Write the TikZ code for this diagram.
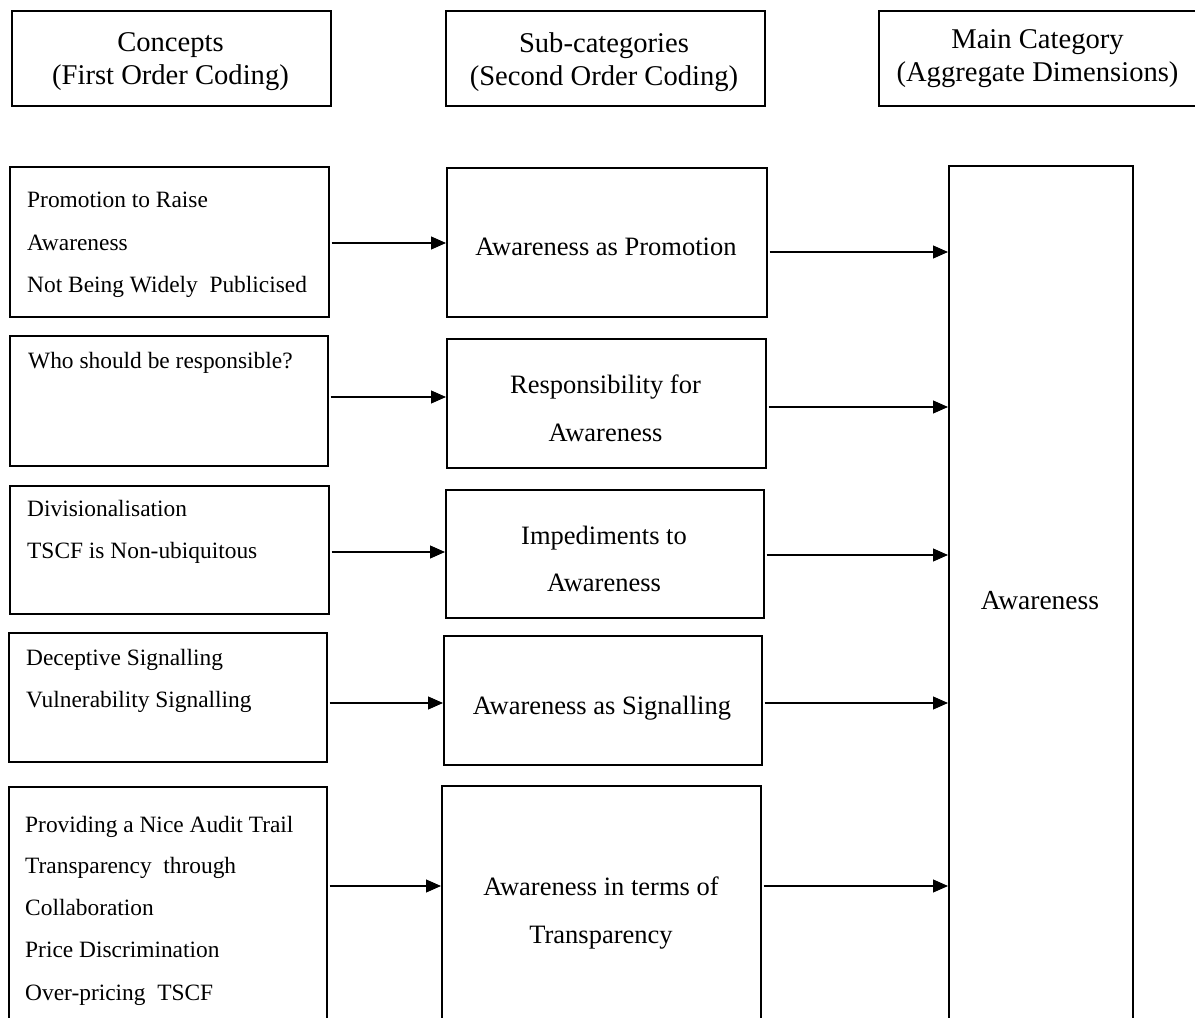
\documentclass[tikz,border=0pt]{standalone}
\usepackage{fontspec}
\setmainfont{Liberation Serif}
\usetikzlibrary{arrows.meta}
\begin{document}
\begin{tikzpicture}[x=1pt,y=-1pt,
  box/.style={draw, line width=1.5pt, rectangle, anchor=north west, inner sep=0pt},
  headtext/.style={font=\fontsize{28.6}{34}\selectfont, anchor=base, inner sep=0pt},
  midtext/.style={font=\fontsize{26.5}{32}\selectfont, anchor=base, inner sep=0pt},
  bigtext/.style={font=\fontsize{27.5}{32}\selectfont, anchor=base, inner sep=0pt},
  concept/.style={font=\fontsize{23.4}{28}\selectfont, anchor=base west, inner sep=0pt},
  link/.style={line width=1.1pt, -{Triangle[length=15pt,width=13pt]}, shorten <=2pt}]

\clip (0,0) rectangle (1195,1018);
\fill[white] (0,0) rectangle (1195,1018);

% column headings
\node[box, minimum width=319pt, minimum height=95pt] (h1) at (11,10) {};
\node[box, minimum width=319pt, minimum height=95pt] (h2) at (445,10) {};
\node[box, minimum width=319pt, minimum height=95pt] (h3) at (878,10) {};
\node[headtext] (h1a) at (170.5,51) {Concepts};
\node[headtext] (h1b) at (170.5,84) {(First Order Coding)};
\node[headtext] (h2a) at (604,52) {Sub-categories};
\node[headtext] (h2b) at (604,85) {(Second Order Coding)};
\node[headtext] (h3a) at (1037.5,48) {Main Category};
\node[headtext] (h3b) at (1037.5,81) {(Aggregate Dimensions)};

% first order concepts
\node[box, minimum width=319pt, minimum height=150pt] (l1) at (9,166) {};
\node[box, minimum width=318pt, minimum height=130pt] (l2) at (9,335) {};
\node[box, minimum width=319pt, minimum height=128pt] (l3) at (9,485) {};
\node[box, minimum width=318pt, minimum height=129pt] (l4) at (8,632) {};
\node[box, minimum width=318pt, minimum height=251pt] (l5) at (8,786) {};

\node[concept] (l1a) at (27,207) {Promotion to Raise};
\node[concept] (l1b) at (27,250) {Awareness};
\node[concept] (l1c) at (27,292) {Not Being Widely\ \ Publicised};
\node[concept] (l2a) at (28,368) {Who should be responsible?};
\node[concept] (l3a) at (27,516) {Divisionalisation};
\node[concept] (l3b) at (27,558) {TSCF is Non-ubiquitous};
\node[concept] (l4a) at (26,665) {Deceptive Signalling};
\node[concept] (l4b) at (26,707) {Vulnerability Signalling};
\node[concept] (l5a) at (25,832) {Providing a Nice Audit Trail};
\node[concept] (l5b) at (25,873) {Transparency\ \ through};
\node[concept] (l5c) at (25,915) {Collaboration};
\node[concept] (l5d) at (25,957) {Price Discrimination};
\node[concept] (l5e) at (25,1000) {Over-pricing\ \ TSCF};

% second order sub-categories
\node[box, minimum width=320pt, minimum height=149pt] (m1) at (446,167) {};
\node[box, minimum width=319pt, minimum height=129pt] (m2) at (446,338) {};
\node[box, minimum width=318pt, minimum height=128pt] (m3) at (445,489) {};
\node[box, minimum width=318pt, minimum height=129pt] (m4) at (443,635) {};
\node[box, minimum width=319pt, minimum height=252pt] (m5) at (441,785) {};

\node[midtext] (m1a) at (606,255) {Awareness as Promotion};
\node[midtext] (m2a) at (605.5,393) {Responsibility for};
\node[midtext] (m2b) at (605.5,441) {Awareness};
\node[midtext] (m3a) at (604,544) {Impediments to};
\node[midtext] (m3b) at (604,591) {Awareness};
\node[midtext] (m4a) at (602,714) {Awareness as Signalling};
\node[midtext] (m5a) at (601,895) {Awareness in terms of};
\node[midtext] (m5b) at (601,943) {Transparency};

% aggregate dimension
\node[box, minimum width=184pt, minimum height=872pt] (aw) at (948,165) {};
\node[bigtext] (awt) at (1040,609) {Awareness};

% connector heights
\coordinate (y1) at (0,243);
\coordinate (y2) at (0,397);
\coordinate (y3) at (0,552);
\coordinate (y4) at (0,703);
\coordinate (y5) at (0,886);
\coordinate (z1) at (0,252);
\coordinate (z2) at (0,407);
\coordinate (z3) at (0,555);
\coordinate (z4) at (0,703);
\coordinate (z5) at (0,886);

\draw[link] (l1.east |- y1) -- (m1.west |- y1);
\draw[link] (l2.east |- y2) -- (m2.west |- y2);
\draw[link] (l3.east |- y3) -- (m3.west |- y3);
\draw[link] (l4.east |- y4) -- (m4.west |- y4);
\draw[link] (l5.east |- y5) -- (m5.west |- y5);

\draw[link] (m1.east |- z1) -- (aw.west |- z1);
\draw[link] (m2.east |- z2) -- (aw.west |- z2);
\draw[link] (m3.east |- z3) -- (aw.west |- z3);
\draw[link] (m4.east |- z4) -- (aw.west |- z4);
\draw[link] (m5.east |- z5) -- (aw.west |- z5);
\end{tikzpicture}
\end{document}
